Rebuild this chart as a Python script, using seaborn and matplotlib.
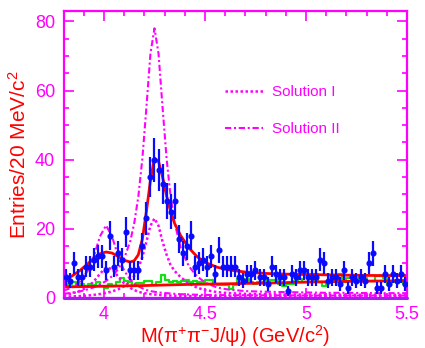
import numpy as np
import pandas as pd
import matplotlib
matplotlib.use("Agg")
import matplotlib.pyplot as plt
import seaborn as sns

# data points: 85 bins of 20 MeV from 3.80 to 5.50 GeV
bin_lo = 3.80
bin_w = 0.02
counts = [6, 5, 10, 6, 6, 9, 9, 11, 12, 12, 8, 18, 9, 13, 11, 19, 8, 8, 8, 15, 23,
          35, 40, 37, 33, 28, 25, 28, 17, 13, 15, 18, 9,
          10, 11, 9, 12, 7, 14, 9, 9, 9, 9, 6, 5, 7, 7, 8, 6, 6, 4, 9, 7, 6, 6, 2, 7, 6, 8,
          8, 6, 6, 6, 11, 10, 5, 6, 6, 4, 8, 3, 6, 5, 6, 5, 10, 13, 3, 3, 7, 4, 7, 5, 7, 4]

# sideband histogram (green)
sideband = [3.4, 4.0, 4.5, 3.6, 4.0, 3.4, 4.0, 3.8, 4.5, 3.6,
            3.0, 4.0, 3.4, 4.5, 5.8, 4.8, 4.5, 3.4, 4.2, 4.2,
            4.8, 4.8, 3.8, 4.5, 6.6, 5.2, 4.5, 4.8, 4.5, 5.0,
            5.2, 4.5, 4.8, 4.7, 4.7, 5.2, 5.2, 4.0, 3.8, 3.8,
            3.8, 2.6, 3.8, 5.5, 5.5, 5.5, 4.5, 4.0, 4.5, 4.5,
            5.0, 5.2, 5.2, 4.0, 3.5, 4.0, 4.0, 5.0, 5.5, 4.5,
            4.5, 4.5, 6.9, 4.5, 3.5, 4.5, 5.2, 5.2, 6.9, 4.5,
            5.8, 5.8, 5.8, 5.8, 5.8, 5.0, 5.0, 6.4, 6.4, 5.8,
            3.8, 4.5, 5.2, 5.2, 4.0]

# fit curves
curve_x = [3.80, 3.84, 3.88, 3.92, 3.95, 3.98, 4.01, 4.04, 4.07, 4.10, 4.13, 4.15,
           4.17, 4.19, 4.21, 4.23, 4.25, 4.27, 4.29, 4.31, 4.33, 4.35, 4.38, 4.42,
           4.46, 4.50, 4.56, 4.62, 4.70, 4.80, 4.90, 5.00, 5.10, 5.20, 5.35, 5.50]
fit_total = [5.2, 6.3, 7.9, 9.9, 11.5, 12.8, 13.3, 13.0, 12.0, 10.9, 10.4, 10.8,
             12.5, 17.0, 25.0, 34.0, 40.5, 39.5, 35.0, 29.5, 25.0, 21.5, 18.0, 14.5,
             12.0, 10.3, 8.9, 8.1, 7.5, 7.1, 6.9, 6.8, 6.7, 6.6, 6.5, 6.5]
sol1_y4008 = [0.9, 1.3, 2.0, 3.2, 4.8, 7.0, 8.8, 8.4, 6.2, 4.2, 2.9, 2.3,
              1.8, 1.5, 1.3, 1.1, 1.0, 0.9, 0.8, 0.75, 0.7, 0.65, 0.6, 0.55,
              0.5, 0.5, 0.45, 0.45, 0.45, 0.4, 0.4, 0.4, 0.4, 0.4, 0.4, 0.4]
sol1_y4260 = [0.4, 0.45, 0.55, 0.7, 0.9, 1.15, 1.45, 1.9, 2.5, 3.4, 4.8, 6.4,
              8.6, 11.9, 16.3, 20.9, 23.0, 20.9, 16.3, 12.5, 9.5, 7.8, 6.0, 4.2,
              3.0, 2.3, 1.7, 1.4, 1.2, 1.1, 1.0, 1.0, 0.95, 0.95, 0.9, 0.9]
sol2_y4008 = [2.1, 3.0, 4.7, 7.9, 12.1, 17.8, 21.0, 17.8, 12.1, 7.9, 5.3, 4.2,
              3.4, 2.8, 2.3, 2.0, 1.8, 1.6, 1.5, 1.4, 1.3, 1.2, 1.1, 1.0,
              0.95, 0.9, 0.85, 0.8, 0.8, 0.75, 0.75, 0.7, 0.7, 0.7, 0.7, 0.7]
sol2_y4260 = [1.2, 1.5, 1.9, 2.5, 3.1, 3.9, 4.9, 6.3, 8.3, 11.4, 16.4, 21.7,
              29.3, 40.3, 55.1, 70.7, 78.0, 70.7, 55.1, 40.3, 29.3, 21.7, 14.4, 9.2,
              6.3, 4.5, 3.0, 2.4, 2.0, 1.8, 1.7, 1.6, 1.5, 1.5, 1.4, 1.4]
bkg_x = [3.8, 4.0, 4.2, 4.4, 4.6, 4.8, 5.0, 5.2, 5.5]
bkg_y = [3.2, 3.4, 3.6, 3.9, 4.1, 4.3, 4.6, 4.8, 5.0]

MAG = "#ff00ff"
RED = "#ff0000"
BLUE = "#0a0aff"
GREEN = "#11e011"

sns.set_style("ticks")
plt.rcParams["font.family"] = ["Liberation Sans", "DejaVu Sans"]
plt.rcParams["mathtext.fontset"] = "custom"
plt.rcParams["mathtext.rm"] = "Liberation Sans"
plt.rcParams["mathtext.it"] = "Liberation Sans"

fig = plt.figure(figsize=(4.25, 3.48), dpi=100)
ax = fig.add_axes([0.1496, 0.1437, 0.8080, 0.8247])

n = len(counts)
centers = [bin_lo + bin_w * (i + 0.5) for i in range(n)]
edges = [bin_lo + bin_w * i for i in range(n + 1)]
df = pd.DataFrame({"m": centers, "n": counts, "sb": sideband})

# sideband histogram
sns.histplot(data=df, x="m", weights="sb", bins=edges, element="step", fill=False,
             color=GREEN, lw=1.6, ax=ax)

# components
dot = (0, (1.0, 1.0))
dashdot = (0, (3.0, 1.3, 1.0, 1.3))
sns.lineplot(x=curve_x, y=sol1_y4008, ax=ax, color=MAG, lw=1.8, linestyle=dot)
sns.lineplot(x=curve_x, y=sol1_y4260, ax=ax, color=MAG, lw=1.8, linestyle=dot,
             label="Solution I")
sns.lineplot(x=curve_x, y=sol2_y4008, ax=ax, color=MAG, lw=1.5, linestyle=dashdot)
sns.lineplot(x=curve_x, y=sol2_y4260, ax=ax, color=MAG, lw=1.5, linestyle=dashdot,
             label="Solution II")

# fit and background
sns.lineplot(x=bkg_x, y=bkg_y, ax=ax, color=RED, lw=2)
sns.lineplot(x=curve_x, y=fit_total, ax=ax, color=RED, lw=2)

# data
ax.errorbar(df["m"], df["n"], yerr=np.sqrt(df["n"]), fmt="o", ms=3.4,
            color=BLUE, ecolor=BLUE, elinewidth=1.6, capsize=0, zorder=5)

ax.axhline(0, color="#a020f0", lw=2.2, zorder=6, clip_on=False)

ax.set_xlim(3.8, 5.5)
ax.set_ylim(0, 83)
ax.set_xticks([4, 4.5, 5, 5.5])
ax.set_xticklabels(["4", "4.5", "5", "5.5"])
ax.set_xticks(np.arange(3.8, 5.51, 0.1), minor=True)
ax.set_yticks([0, 20, 40, 60, 80])
ax.set_yticks(np.arange(0, 83, 5), minor=True)
ax.tick_params(which="both", direction="in", top=True, right=True, color=MAG,
               labelcolor=MAG, labelsize=13, width=1.2)
ax.tick_params(which="major", length=7, pad=6)
ax.tick_params(which="minor", length=3.5)
for s in ax.spines.values():
    s.set_color(MAG)
    s.set_linewidth(1.6)

ax.set_xlabel("M(π$^{+}$π$^{-}$J/ψ) (GeV/c$^{2}$)", color=RED, fontsize=14.5, labelpad=0)
ax.set_ylabel("Entries/20 MeV/c$^{2}$", color=RED, fontsize=15, labelpad=4)

leg = ax.legend(loc="upper left", bbox_to_anchor=(0.47, 0.742), frameon=False,
                fontsize=11, handlelength=2.5, handletextpad=0.6, labelspacing=1.5,
                borderpad=0, borderaxespad=0)
for t in leg.get_texts():
    t.set_color(MAG)

fig.savefig("out.png", dpi=100)
